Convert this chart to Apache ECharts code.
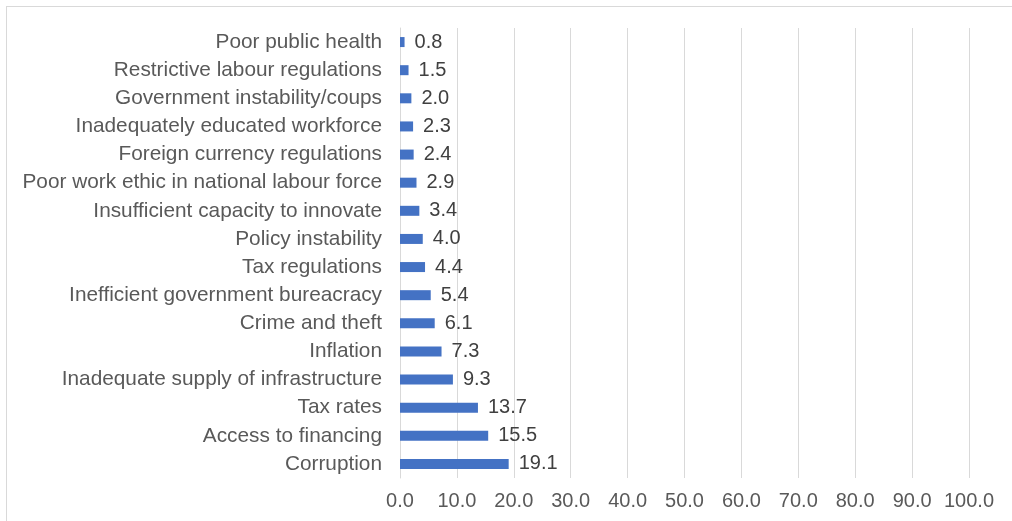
<!DOCTYPE html>
<html>
<head>
<meta charset="utf-8">
<script src="https://cdn.jsdelivr.net/npm/echarts@6/dist/echarts.min.js"></script>
<style>
  html, body { margin: 0; padding: 0; background: #fff; overflow: hidden; }
  #frame { position: absolute; left: 6px; top: 6px; width: 1020px; height: 530px; border: 1px solid #d9d9d9; box-sizing: border-box; }
  #chart { position: absolute; left: 0; top: 0; width: 1012px; height: 521px; }
</style>
</head>
<body>
<div id="frame"></div>
<div id="chart"></div>
<script>
// categories top to bottom
const categories = [
  'Poor public health',
  'Restrictive labour regulations',
  'Government instability/coups',
  'Inadequately educated workforce',
  'Foreign currency regulations',
  'Poor work ethic in national labour force',
  'Insufficient capacity to innovate',
  'Policy instability',
  'Tax regulations',
  'Inefficient government bureacracy',
  'Crime and theft',
  'Inflation',
  'Inadequate supply of infrastructure',
  'Tax rates',
  'Access to financing',
  'Corruption'
];
const values = [0.8, 1.5, 2.0, 2.3, 2.4, 2.9, 3.4, 4.0, 4.4, 5.4, 6.1, 7.3, 9.3, 13.7, 15.5, 19.1];

const chart = echarts.init(document.getElementById('chart'));
chart.setOption({
  animation: false,
  textStyle: { fontFamily: 'Liberation Sans, Arial, sans-serif' },
  grid: { left: 400, right: 43, top: 28, bottom: 43, containLabel: false },
  xAxis: {
    type: 'value',
    min: 0,
    max: 100,
    interval: 10,
    axisLine: { show: false },
    axisTick: { show: false },
    splitLine: { show: true, lineStyle: { color: '#d9d9d9', width: 1 } },
    axisLabel: {
      color: '#595959',
      fontSize: 20,
      margin: 13,
      formatter: v => v.toFixed(1)
    }
  },
  yAxis: {
    type: 'category',
    inverse: true,
    data: categories,
    axisLine: { show: true, lineStyle: { color: '#d9d9d9' } },
    axisTick: { show: false },
    axisLabel: { color: '#595959', fontSize: 20.8, margin: 18 }
  },
  series: [{
    type: 'bar',
    data: values,
    barWidth: 10,
    itemStyle: { color: '#4472C4' },
    label: {
      show: true,
      position: 'right',
      distance: 10,
      color: '#404040',
      fontSize: 20,
      formatter: p => p.value.toFixed(1)
    }
  }]
});
</script>
</body>
</html>
